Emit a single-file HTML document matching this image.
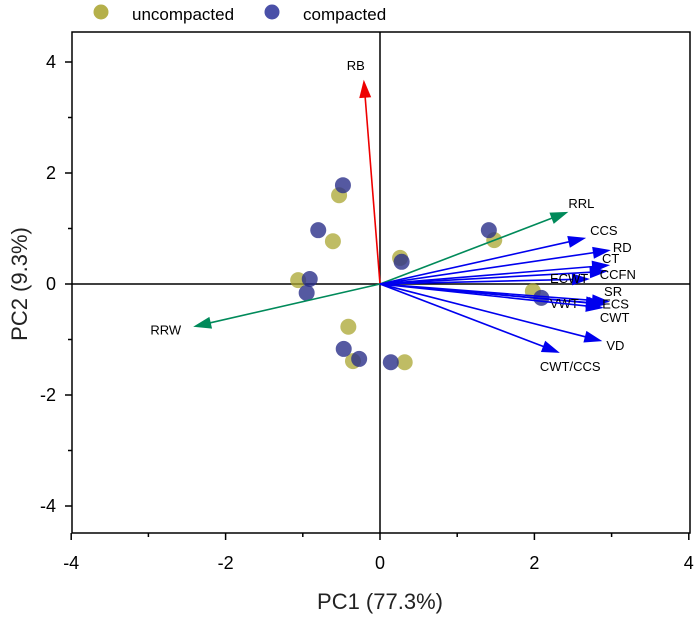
<!DOCTYPE html>
<html><head><meta charset="utf-8"><style>
body{margin:0;background:#fff}
svg{display:block;font-family:"Liberation Sans",Arial,sans-serif}
</style></head><body>
<svg id="chart" width="700" height="617" viewBox="0 0 700 617">
<g id="plot"></g>
</svg>
<script>
const uncompX=[-0.53,-0.61,-1.06,-0.41,-0.35,0.32,0.26,1.48,1.98];
const uncompY=[1.60,0.77,0.07,-0.77,-1.39,-1.41,0.47,0.79,-0.13];
const compX=[-0.48,-0.80,-0.91,-0.95,-0.47,-0.27,0.14,0.28,1.41,2.09];
const compY=[1.78,0.97,0.09,-0.16,-1.17,-1.35,-1.41,0.40,0.97,-0.25];
const loadNames=["RB","RRL","RRW","CCS","RD","CT","CCFN","ECWT","SR","ECS","VWT","CWT","VD","CWT/CCS"];
const loadX=[-0.21,2.44,-2.42,2.67,2.99,2.98,2.95,2.72,2.98,2.93,2.90,2.90,2.88,2.33];
const loadY=[3.68,1.30,-0.77,0.83,0.61,0.34,0.23,0.09,-0.32,-0.37,-0.36,-0.43,-1.03,-1.24];
const xTicks=[-4,-2,0,2,4];
const yTicks=[-4,-2,0,2,4];
const X0=72,X1=690,Y0=32,Y1=533;
const sx=v=>380+v*77.2;
const sy=v=>284-v*55.5;
const NS="http://www.w3.org/2000/svg";
const g=document.getElementById('plot');
function mk(t,a,p){const e=document.createElementNS(NS,t);for(const k in a)e.setAttribute(k,a[k]);(p||g).appendChild(e);return e;}
let fr=mk('rect',{x:X0,y:Y0,width:X1-X0,height:Y1-Y0,fill:'none',stroke:'#000','stroke-width':1.5});


let zl=mk('line',{x1:X0,x2:X1,y1:sy(0),y2:sy(0),stroke:'#000','stroke-width':1.5});


let zv=mk('line',{x1:sx(0),x2:sx(0),y1:Y0,y2:Y1,stroke:'#000','stroke-width':1.5});


for(let v=-4;v<=4;v++){const maj=v%2===0;
 let t=mk('line',{x1:sx(v),x2:sx(v),y1:Y1,y2:Y1+(maj?7:4),stroke:'#000','stroke-width':1.5});
 
 
 let u=mk('line',{x1:X0,x2:X0-(maj?7:4),y1:sy(v),y2:sy(v),stroke:'#000','stroke-width':1.5});
 
 }
xTicks.forEach(v=>{let t=mk('text',{x:sx(v),y:569,'text-anchor':'middle','font-size':18});t.textContent=v;
 
 });
yTicks.forEach(v=>{let t=mk('text',{x:56,y:sy(v)+6,'text-anchor':'end','font-size':18});t.textContent=v;
 
 });
let xt=mk('text',{x:380,y:609,'text-anchor':'middle','font-size':22,fill:'#222'});xt.textContent='PC1 (77.3%)';


let yt=mk('text',{x:0,y:0,'text-anchor':'middle','font-size':22,fill:'#222',transform:'translate(27,284) rotate(-90)'});yt.textContent='PC2 (9.3%)';


uncompX.forEach((v,i)=>{let c=mk('circle',{cx:sx(v),cy:sy(uncompY[i]),r:8,fill:'#aaa530','fill-opacity':0.75});
 
 });
compX.forEach((v,i)=>{let c=mk('circle',{cx:sx(v),cy:sy(compY[i]),r:8,fill:'#2a2f8a','fill-opacity':0.8});
 
 });
const colors={RB:'#ee0000',RRL:'#008a5a',RRW:'#008a5a'};
const labOff={"RB":[-8,-10,'middle'],"RRL":[0,-4,'start'],"RRW":[-12,8,'end'],"CCS":[4,-3,'start'],"RD":[2,2,'start'],"CT":[-8,-2,'start'],"CCFN":[-8,8,'start'],"ECWT":[-40,4,'start'],"SR":[-6,-6,'start'],"ECS":[-4,4,'start'],"VWT":[-54,4,'start'],"CWT":[-4,14,'start'],"VD":[4,9,'start'],"CWT/CCS":[-20,18,'start']};
loadNames.forEach((n,i)=>{const col=colors[n]||'#0000ee';
 const x2=sx(loadX[i]),y2=sy(loadY[i]);
 const dx=x2-380,dy=y2-284,L=Math.hypot(dx,dy);
 let a=mk('line',{x1:380,y1:284,x2:x2-dx/L*12,y2:y2-dy/L*12,stroke:col,'stroke-width':1.6});
 
 
 const ux=dx/L,uy=dy/L,px=-uy,py=ux;
 let h=mk('path',{d:`M${x2},${y2}L${x2-ux*18+px*6},${y2-uy*18+py*6}L${x2-ux*18-px*6},${y2-uy*18-py*6}Z`,fill:col});
 
 
 let o=labOff[n]||[-30,20,'start'];
 let t=mk('text',{x:x2+o[0],y:y2+o[1],'text-anchor':o[2],'font-size':13});t.textContent=n;
 
 });
let l1=mk('circle',{cx:101,cy:12,r:7.5,fill:'#b5b04a'});


let lt1=mk('text',{x:132,y:20,'font-size':17});lt1.textContent='uncompacted';


let l2=mk('circle',{cx:272,cy:12,r:7.5,fill:'#4a50a8'});


let lt2=mk('text',{x:303,y:20,'font-size':17});lt2.textContent='compacted';


</script>
</body></html>
